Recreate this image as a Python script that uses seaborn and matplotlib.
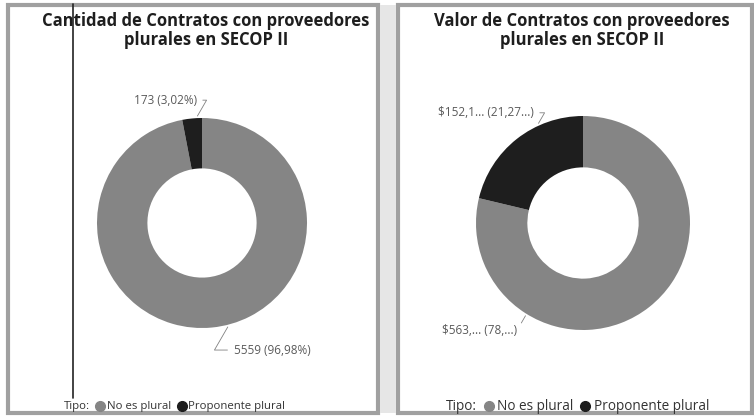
import numpy as np
import matplotlib
matplotlib.use("Agg")
import matplotlib.pyplot as plt
import seaborn as sns
from matplotlib.lines import Line2D
from matplotlib.patches import Rectangle

tipos = ["No es plural", "Proponente plural"]
cantidad = [5559, 173]
cantidad_labels = ["5559 (96,98%)", "173 (3,02%)"]
valor = [563.0, 152.1]
valor_labels = ["$563,... (78,...)", "$152,1... (21,27...)"]
titles = ["Cantidad de Contratos con proveedores\nplurales en SECOP II",
          "Valor de Contratos con proveedores\nplurales en SECOP II"]

colors = ["#858585", "#1e1e1e"]

sns.set_theme(style="white")
plt.rcParams['font.family'] = ['Open Sans', 'DejaVu Sans']

W, H = 754, 417
fig = plt.figure(figsize=(W / 100, H / 100), dpi=100)
fig.patch.set_facecolor("white")


def px_axes(cx, cy, r, lim=1.1):
    # axes placed so that a pie of radius 1 is r pixels wide
    side = 2 * r * lim
    return fig.add_axes([(cx - side / 2) / W, (H - cy - side / 2) / H, side / W, side / H])


def anchor(w, tx, ty):
    # point on the outer edge of the wedge closest in direction to the label
    a = np.degrees(np.arctan2(ty, tx)) % 360
    t1, t2 = w.theta1 % 360, w.theta2 % 360
    span = (t2 - t1) % 360
    rel = (a - t1) % 360
    if rel > span:
        a = t1 if (360 - rel) < (rel - span) else t2
        a = a + (3 if a == t1 else -3)
    r = np.deg2rad(a)
    return np.cos(r), np.sin(r)


# panel frames (scanned gray borders)
for x0, x1 in [(8, 378), (398, 752)]:
    fig.patches.append(Rectangle((x0 / W, 4 / H), (x1 - x0) / W, 408 / H,
                                 transform=fig.transFigure, fill=False,
                                 edgecolor="#a0a0a0", linewidth=3.0))
fig.patches.append(Rectangle((380 / W, 4 / H), 16 / W, 408 / H, transform=fig.transFigure,
                             facecolor="#e6e6e6", edgecolor="none"))

# stray vertical line from the scan
fig.add_artist(Line2D([73 / W, 73 / W], [1 - 4 / H, 1 - 398 / H], transform=fig.transFigure,
                      color="#222222", linewidth=1.2))

panels = [
    dict(values=cantidad, labels=cantidad_labels, title=titles[0], cx=202, cy=223, r=105,
         tcx=206, legx=47, legfs=8.2,
         text_pos=[(0.30, -1.21), (-0.05, 1.17)], ha=["left", "right"]),
    dict(values=valor, labels=valor_labels, title=titles[1], cx=583, cy=223, r=107,
         tcx=582, legx=425, legfs=9.8,
         text_pos=[(-0.62, -1.00), (-0.46, 1.03)], ha=["right", "right"]),
]

for p in panels:
    ax = px_axes(p["cx"], p["cy"], p["r"])
    wedges, _ = ax.pie(p["values"], colors=colors, startangle=90, counterclock=False,
                       radius=1.0, wedgeprops=dict(width=0.48, edgecolor="none"))
    ax.set_xlim(-1.1, 1.1)
    ax.set_ylim(-1.1, 1.1)
    ax.set_aspect("equal")
    ax.axis("off")

    for w, lab, (tx, ty), ha in zip(wedges, p["labels"], p["text_pos"], p["ha"]):
        x, y = anchor(w, tx, ty)
        ax.annotate(lab, xy=(x * 1.02, y * 1.02), xytext=(tx, ty), ha=ha, va="center",
                    fontsize=8.5, color="#5a5a5a",
                    arrowprops=dict(arrowstyle="-", color="#808080", lw=0.6,
                                    shrinkA=2, shrinkB=0,
                                    connectionstyle="angle,angleA=0,angleB=60,rad=0"),
                    annotation_clip=False)

    fig.text(p["tcx"] / W, 1 - 12 / H, p["title"], ha="center", va="top",
             fontsize=12, fontweight="bold", color="#1e1e1e", linespacing=1.05)

    handles = [Line2D([], [], linestyle="none", marker=None)]
    handles += [Line2D([], [], linestyle="none", marker="o", markersize=7,
                       markerfacecolor=c, markeredgecolor=c) for c in colors]
    fig.legend(handles, ["Tipo:"] + tipos, ncol=3, frameon=False,
               loc="center left", bbox_to_anchor=(p["legx"] / W, 1 - 407 / H),
               fontsize=p["legfs"], handlelength=0.8, handletextpad=0.2, columnspacing=0.5,
               borderpad=0, labelcolor="#333333")

fig.savefig("out.png", dpi=100)
